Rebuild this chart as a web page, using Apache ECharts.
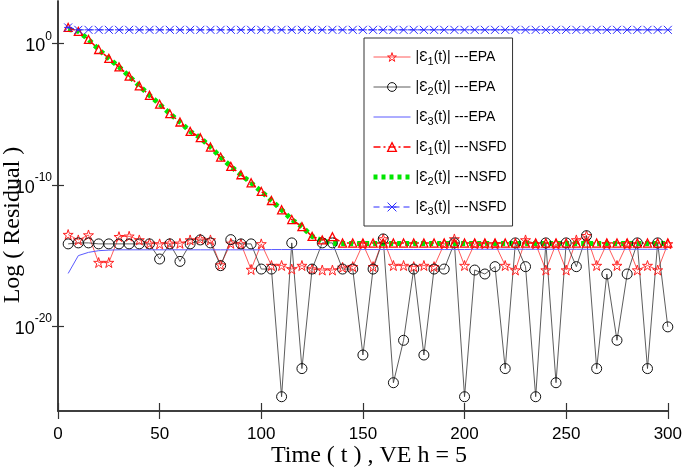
<!DOCTYPE html>
<html><head><meta charset="utf-8">
<script src="https://cdn.jsdelivr.net/npm/echarts@6/dist/echarts.min.js"></script>
<style>html,body{margin:0;padding:0;background:#fff}#c{width:685px;height:470px}</style>
</head><body><div id="c"></div>
<script>
// time points
const times = [5,10,15,20,25,30,35,40,45,50,55,60,65,70,75,80,85,90,95,100,
  105,110,115,120,125,130,135,140,145,150,155,160,165,170,175,180,185,190,195,200,
  205,210,215,220,225,230,235,240,245,250,255,260,265,270,275,280,285,290,295,300];
// values stored as base-10 exponents of the residual
const epa1Exp = [-13.52,-13.9,-13.55,-15.5,-15.5,-13.67,-13.64,-13.9,-14.14,-14.18,-14.14,-14.14,-13.9,-13.83,-13.9,-15.67,-14.14,-14.18,-15.99,-14.18,
  -15.71,-15.71,-15.96,-15.71,-15.96,-16.03,-16.03,-15.84,-15.79,-14.2,-15.79,-13.83,-15.71,-15.71,-15.79,-15.71,-15.79,-14.18,-13.83,-15.71,
  -14.18,-14.18,-14.18,-15.71,-16.03,-13.9,-14.18,-16.03,-14.18,-16.03,-13.9,-13.6,-15.71,-14.18,-15.71,-14.18,-16.03,-15.71,-16.03,-14.18];
const epa2Exp = [-14.18,-14.11,-14.11,-14.18,-14.18,-14.18,-14.18,-14.18,-14.18,-15.25,-14.18,-15.42,-14.18,-13.9,-14.11,-15.72,-13.88,-14.18,-14.18,-15.96,
  -15.96,-24.99,-14.11,-23.0,-15.96,-14.11,-14.11,-15.96,-15.96,-22.04,-15.96,-13.83,-24.0,-21.0,-15.96,-22.04,-15.96,-15.96,-14.11,-24.99,
  -16.03,-16.31,-15.79,-23.0,-14.11,-15.79,-24.99,-14.11,-24.0,-14.11,-15.79,-13.6,-23.0,-16.31,-21.0,-16.31,-14.11,-23.0,-14.11,-20.05];
const epa3Exp = [-16.27,-15.01,-14.78,-14.66,-14.62,-14.6,-14.6,-14.6,-14.6,-14.6,-14.6,-14.6,-14.6,-14.6,-14.6,-14.6,-14.6,-14.6,-14.6,-14.6,
  -14.58,-14.58,-14.58,-14.58,-14.58,-14.58,-14.58,-14.58,-14.58,-14.58,-14.58,-14.58,-14.58,-14.58,-14.58,-14.58,-14.58,-14.58,-14.58,-14.58,
  -14.56,-14.56,-14.56,-14.56,-14.56,-14.56,-14.56,-14.56,-14.56,-14.56,-14.56,-14.56,-14.56,-14.56,-14.56,-14.56,-14.56,-14.56,-14.56,-14.56];
const nsfd1Exp = [1.13,0.85,0.28,-0.43,-1.06,-1.66,-2.32,-3.0,-3.67,-4.3,-4.97,-5.56,-6.22,-6.67,-7.33,-8.04,-8.7,-9.29,-9.86,-10.47,
  -11.11,-11.77,-12.46,-12.96,-13.65,-13.9,-13.67,-14.12,-14.12,-14.12,-14.12,-14.12,-14.12,-14.12,-14.12,-14.12,-14.12,-14.12,-14.12,-14.12,
  -14.12,-14.12,-14.12,-14.12,-14.12,-14.12,-14.12,-14.12,-14.12,-14.12,-14.12,-14.12,-14.12,-14.12,-14.12,-14.12,-14.12,-14.12,-14.12,-14.12];
const nsfd2Exp = [1.0,0.85,0.28,-0.43,-1.06,-1.66,-2.32,-3.0,-3.67,-4.3,-4.97,-5.56,-6.22,-6.67,-7.33,-8.04,-8.7,-9.29,-9.86,-10.47,
  -11.11,-11.77,-12.46,-12.96,-13.65,-13.95,-14.15,-14.15,-14.15,-14.15,-14.15,-14.15,-14.15,-14.15,-14.15,-14.15,-14.15,-14.15,-14.15,-14.15,
  -14.15,-14.15,-14.15,-14.15,-14.15,-14.15,-14.15,-14.15,-14.15,-14.15,-14.15,-14.15,-14.15,-14.15,-14.15,-14.15,-14.15,-14.15,-14.15,-14.15];
const nsfd3Exp = [1.13,0.96,0.96,0.96,0.96,0.96,0.96,0.96,0.96,0.96,0.96,0.96,0.96,0.96,0.96,0.96,0.96,0.96,0.96,0.96,
  0.96,0.96,0.96,0.96,0.96,0.96,0.96,0.96,0.96,0.96,0.96,0.96,0.96,0.96,0.96,0.96,0.96,0.96,0.96,0.96,
  0.96,0.96,0.96,0.96,0.96,0.96,0.96,0.96,0.96,0.96,0.96,0.96,0.96,0.96,0.96,0.96,0.96,0.96,0.96,0.96];
const seriesNames = ['|Ɛ1(t)| ---EPA','|Ɛ2(t)| ---EPA','|Ɛ3(t)| ---EPA','|Ɛ1(t)| ---NSFD','|Ɛ2(t)| ---NSFD','|Ɛ3(t)| ---NSFD'];
const xTicks = [0,50,100,150,200,250,300];
const yTicks = [1e-20,1e-10,1];
const xLabel = 'Time ( t ) , VE h = 5';
const yLabel = 'Log ( Residual )';

const toPairs = arr => times.map((t, i) => [t, Math.pow(10, arr[i])]);
const STAR = 'path://M50,0L61.8,38.2L100,38.2L69.1,61.8L80.9,100L50,76.4L19.1,100L30.9,61.8L0,38.2L38.2,38.2Z';
const CROSS = 'path://M0,0L10,10M10,0L0,10M0,5L10,5';
const clear = 'rgba(0,0,0,0)';
const SANS = '"Liberation Sans", Arial, sans-serif';
const SERIF = '"Liberation Serif", "Times New Roman", serif';

const styles = [
  {line: {color: '#ff3030', width: 0.8}, item: {color: clear, borderColor: '#ff2020', borderWidth: 1}},
  {line: {color: '#333', width: 0.8}, item: {color: clear, borderColor: '#111', borderWidth: 1}},
  {line: {color: '#5a5aff', width: 1}, item: {color: clear, borderColor: clear, borderWidth: 0}},
  {line: {color: '#ff0000', width: 1.6, type: [7, 3, 2, 3]}, item: {color: clear, borderColor: '#ff0000', borderWidth: 1.3}},
  {line: {color: '#00e600', width: 5, type: [4, 4], cap: 'butt'}, item: {color: clear, borderColor: clear, borderWidth: 0}},
  {line: {color: '#2a2aff', width: 1, type: [6, 4]}, item: {color: clear, borderColor: '#2a2aff', borderWidth: 1}}
];
const symbols = [STAR, 'circle', 'none', 'triangle', 'none', CROSS];
const symbolSizes = [10, 10, 0, 8, 0, 8];
const dataSets = [epa1Exp, epa2Exp, epa3Exp, nsfd1Exp, nsfd2Exp, nsfd3Exp];

const chart = echarts.init(document.getElementById('c'), null, {renderer: 'canvas'});
const axisLineStyle = {color: '#333', width: 1.5};
const tickStyle = {color: '#333', width: 1.2};
chart.setOption({
  animation: false,
  backgroundColor: '#fff',
  grid: {left: 58, right: 12, top: 1, bottom: 59, containLabel: false},
  xAxis: [{
    type: 'value', min: 0, max: 300, interval: 50, position: 'bottom',
    axisLine: {lineStyle: axisLineStyle},
    axisTick: {inside: true, length: 8, lineStyle: tickStyle},
    axisLabel: {fontFamily: SANS, fontSize: 17, color: '#000', margin: 15},
    splitLine: {show: false}
  }, {
    type: 'value', min: 0, max: 300, interval: 50, position: 'top',
    axisLine: {lineStyle: axisLineStyle},
    axisTick: {inside: true, length: 8, lineStyle: tickStyle},
    axisLabel: {show: false}, splitLine: {show: false}
  }],
  yAxis: [{
    type: 'log', logBase: 10, min: 1e-26, max: 1e3, position: 'left',
    axisLine: {show: true, lineStyle: axisLineStyle},
    axisTick: {show: true, inside: true, length: 6, customValues: yTicks, lineStyle: tickStyle},
    axisLabel: {
      customValues: yTicks, margin: 6,
      formatter: v => '{b|10}{s|' + Math.round(Math.log10(v)) + '}',
      rich: {
        b: {fontFamily: SANS, fontSize: 18, lineHeight: 26, padding: [6, 0, 0, 0], color: '#000'},
        s: {fontFamily: SANS, fontSize: 12, lineHeight: 12, verticalAlign: 'top', color: '#000'}
      }
    },
    splitLine: {show: false}
  }, {
    type: 'log', logBase: 10, min: 1e-26, max: 1e3, position: 'right',
    axisLine: {show: true, lineStyle: axisLineStyle},
    axisTick: {show: true, inside: true, length: 6, customValues: yTicks, lineStyle: tickStyle},
    axisLabel: {show: false, customValues: yTicks},
    splitLine: {show: false}
  }],
  legend: {
    orient: 'vertical', left: 364, top: 38,
    padding: [9, 6, 9, 7], itemGap: 10, itemWidth: 37, itemHeight: 11,
    borderColor: '#333', borderWidth: 1, backgroundColor: '#fff',
    data: seriesNames.map((n, i) => ({name: n, itemStyle: styles[i].item, lineStyle: styles[i].line})),
    formatter: name => name.replace(/Ɛ(\d)/, 'Ɛ{sub|$1}'),
    textStyle: {
      fontFamily: SANS, fontSize: 14, lineHeight: 20, color: '#000',
      rich: {sub: {fontFamily: SANS, fontSize: 11, lineHeight: 11, verticalAlign: 'bottom', color: '#000'}}
    }
  },
  graphic: [
    {type: 'text', x: 13, y: 225, rotation: Math.PI / 2,
     style: {text: yLabel, font: '24px ' + SERIF, fill: '#000', textAlign: 'center', textVerticalAlign: 'middle'}},
    {type: 'text', x: 369, y: 456,
     style: {text: xLabel, font: '24px ' + SERIF, fill: '#000', textAlign: 'center', textVerticalAlign: 'middle'}}
  ],
  series: seriesNames.map((n, i) => ({
    name: n, type: 'line', data: toPairs(dataSets[i]),
    symbol: symbols[i], symbolSize: symbolSizes[i], showSymbol: symbols[i] !== 'none',
    lineStyle: styles[i].line, itemStyle: styles[i].item
  }))
});
</script>
</body></html>
